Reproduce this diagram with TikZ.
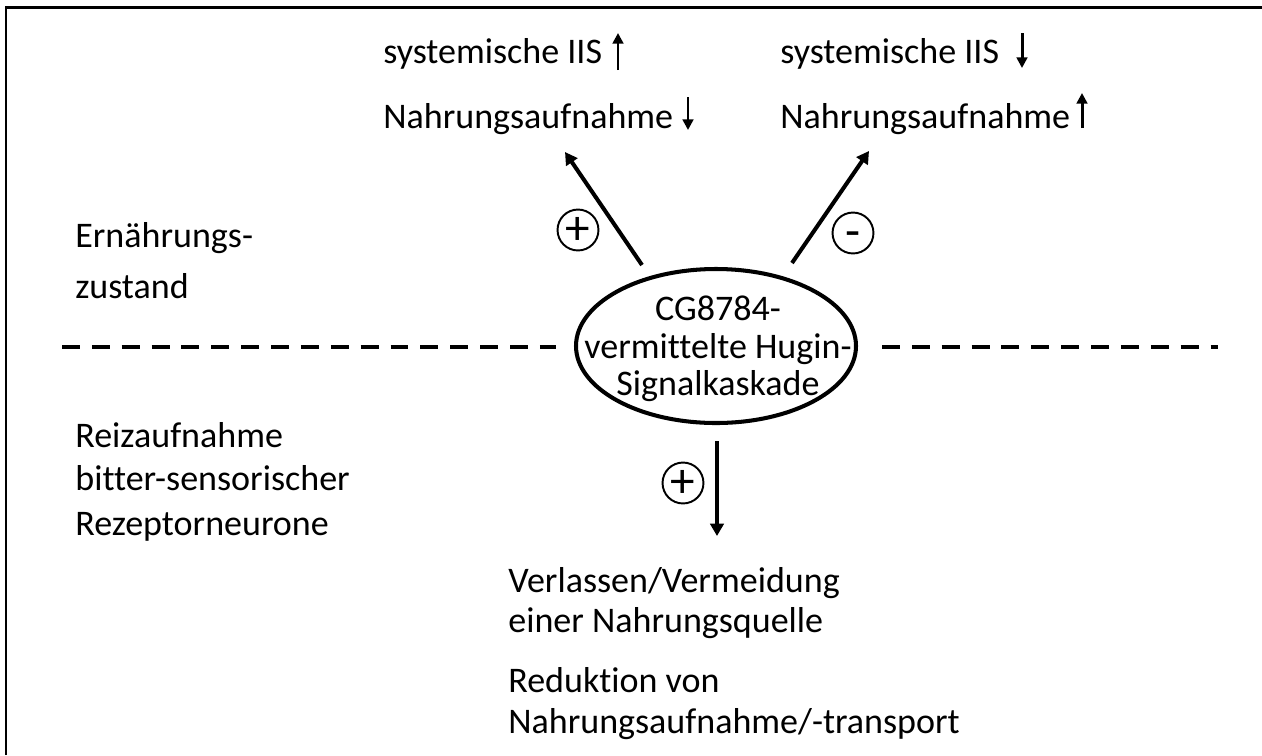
\documentclass[tikz,border=0pt]{standalone}
\usepackage{fontspec}
\setmainfont{Carlito}[Ligatures=NoCommon]
\usetikzlibrary{arrows.meta,shapes.geometric}

\begin{document}
\begin{tikzpicture}[x=0.02cm,y=-0.02cm,
    txt/.style={inner sep=0pt,anchor=base west,font=\fontsize{20.5}{24}\selectfont},
    sign/.style={draw,circle,line width=1.1pt,minimum size=23.3pt,inner sep=0pt,
        text height=0.3em,text depth=0.3em,font=\fontsize{28}{30}\selectfont},
    pfeil/.style={line width=2.3pt,-{Triangle[width=7.6pt,length=7pt]}},
    mini/.style={line width=1.7pt,-{Triangle[width=6pt,length=6pt]}},
    trenn/.style={line width=2.3pt,dash pattern=on 10.2pt off 6.8pt}]
    \useasboundingbox (0,0) rectangle (1262,755);
    % frame
    \draw[line width=1.7pt] (6,755) -- (6,7) -- (1262,7);
    % separation
    \coordinate (sepL1) at (62,347);
    \coordinate (sepL2) at (556,347);
    \coordinate (sepR1) at (882,347);
    \coordinate (sepR2) at (1218,347);
    \draw[trenn] (sepL1) -- (sepL2);
    \draw[trenn] (sepR1) -- (sepR2);
    % central cascade
    \node[inner sep=0pt,align=center,font=\fontsize{20.5}{21.3}\selectfont]
        (hugin) at (718,349) {CG8784-\\vermittelte Hugin-\\Signalkaskade};
    \draw[line width=2.3pt] (716,346) ellipse [x radius=140, y radius=77];
    % outputs
    \coordinate (hL) at (642,265);
    \coordinate (tL) at (565,152);
    \coordinate (hR) at (792,263);
    \coordinate (tR) at (869,151);
    \coordinate (hD) at (717,441);
    \coordinate (tD) at (717,536);
    \draw[pfeil] (hL) -- (tL);
    \draw[pfeil] (hR) -- (tR);
    \draw[pfeil] (hD) -- (tD);
    \node[sign] (plusL) at (578,230) {\raisebox{-0.3em}{+}};
    \node[sign] (minusR) at (853,233) {\raisebox{-0.3em}{-}};
    \node[sign] (plusD) at (683,483) {\raisebox{-0.3em}{+}};
    % effects
    \node[txt] (sysL) at (383,63) {systemische IIS};
    \node[txt] (nahL) at (383,128) {Nahrungsaufnahme};
    \node[txt] (sysR) at (780,63) {systemische IIS};
    \node[txt] (nahR) at (780,128) {Nahrungsaufnahme};
    \coordinate (sysLa) at (618,70);
    \coordinate (sysLb) at (618,33);
    \coordinate (nahLa) at (688,97);
    \coordinate (nahLb) at (688,130);
    \coordinate (sysRa) at (1022,33);
    \coordinate (sysRb) at (1022,68);
    \coordinate (nahRa) at (1082,128);
    \coordinate (nahRb) at (1082,93);
    \foreach \a/\b in {sysLa/sysLb,nahLa/nahLb,sysRa/sysRb,nahRa/nahRb}
        \draw[mini] (\a) -- (\b);
    \node[txt] (ern1) at (75,247) {Ernährungs-};
    \node[txt] (ern2) at (75,298) {zustand};
    \node[txt] (reiz1) at (75,447) {Reizaufnahme};
    \node[txt] (reiz2) at (75,490) {bitter-sensorischer};
    \node[txt] (reiz3) at (75,535) {Rezeptorneurone};
    \node[txt] (verl1) at (508,592) {Verlassen/Vermeidung};
    \node[txt] (verl2) at (508,632) {einer Nahrungsquelle};
    \node[txt] (red1) at (508,692) {Reduktion von};
    \node[txt] (red2) at (508,733) {Nahrungsaufnahme/-transport};
\end{tikzpicture}
\end{document}
